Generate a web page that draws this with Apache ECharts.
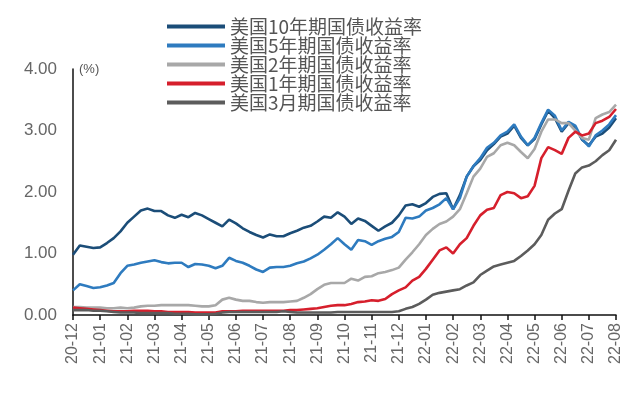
<!DOCTYPE html>
<html>
<head>
<meta charset="utf-8">
<script src="https://cdn.jsdelivr.net/npm/echarts@6/dist/echarts.min.js"></script>
<style>html,body{margin:0;padding:0;background:#fff;}#c{width:640px;height:393px;}</style>
</head>
<body>
<div id="c"></div>
<script>
// Month tick labels (x axis, one per month)
const monthLabels = ['20-12','21-01','21-02','21-03','21-04','21-05','21-06','21-07','21-08','21-09','21-10','21-11','21-12','22-01','22-02','22-03','22-04','22-05','22-06','22-07','22-08'];
// Data sampled about weekly (4 points per month), from 20-12 to 22-08
const pointsPerMonth = 4;
const seriesNames = ['美国10年期国债收益率','美国5年期国债收益率','美国2年期国债收益率','美国1年期国债收益率','美国3月期国债收益率'];
const y10 = [0.98,1.13,1.11,1.09,1.10,1.17,1.25,1.36,1.50,1.60,1.70,1.73,1.69,1.69,1.62,1.58,1.63,1.59,1.66,1.62,1.56,1.50,1.44,1.55,1.49,1.41,1.35,1.30,1.26,1.31,1.28,1.28,1.33,1.37,1.42,1.45,1.52,1.60,1.58,1.67,1.60,1.48,1.57,1.53,1.45,1.37,1.44,1.50,1.62,1.78,1.80,1.76,1.82,1.92,1.97,1.98,1.72,1.95,2.25,2.42,2.52,2.68,2.78,2.90,2.95,3.08,2.88,2.76,2.86,3.10,3.32,3.20,2.98,3.12,3.05,2.85,2.76,2.90,2.95,3.05,3.20];
const y5 = [0.40,0.50,0.47,0.44,0.45,0.48,0.52,0.68,0.80,0.82,0.85,0.87,0.89,0.86,0.84,0.85,0.85,0.78,0.83,0.82,0.80,0.76,0.80,0.93,0.88,0.85,0.80,0.74,0.70,0.77,0.78,0.78,0.80,0.84,0.87,0.92,0.98,1.06,1.15,1.25,1.15,1.06,1.22,1.20,1.14,1.20,1.24,1.27,1.35,1.58,1.57,1.60,1.70,1.74,1.80,1.90,1.72,1.90,2.25,2.42,2.55,2.72,2.80,2.92,2.98,3.10,2.90,2.76,2.88,3.12,3.34,3.24,3.00,3.14,3.08,2.86,2.74,2.92,3.00,3.10,3.25];
const y2 = [0.13,0.13,0.12,0.12,0.12,0.11,0.11,0.12,0.11,0.12,0.14,0.15,0.15,0.16,0.16,0.16,0.16,0.16,0.15,0.14,0.14,0.16,0.25,0.28,0.25,0.23,0.23,0.21,0.20,0.21,0.21,0.21,0.22,0.23,0.28,0.34,0.42,0.49,0.52,0.52,0.52,0.59,0.56,0.62,0.63,0.68,0.70,0.73,0.77,0.90,1.02,1.15,1.30,1.40,1.48,1.52,1.60,1.72,1.98,2.25,2.38,2.57,2.63,2.76,2.80,2.76,2.65,2.55,2.70,2.98,3.18,3.18,3.12,3.12,3.00,2.88,2.85,3.20,3.26,3.30,3.42];
const y1 = [0.12,0.11,0.10,0.09,0.08,0.07,0.06,0.06,0.06,0.07,0.07,0.07,0.06,0.06,0.05,0.05,0.05,0.05,0.04,0.04,0.04,0.04,0.06,0.06,0.06,0.07,0.07,0.07,0.07,0.07,0.07,0.07,0.08,0.08,0.09,0.10,0.11,0.13,0.15,0.16,0.16,0.18,0.21,0.22,0.24,0.23,0.26,0.34,0.40,0.45,0.56,0.62,0.75,0.90,1.05,1.10,1.00,1.15,1.25,1.45,1.62,1.71,1.74,1.95,2.00,1.98,1.90,1.93,2.10,2.55,2.73,2.68,2.62,2.88,2.98,2.92,2.95,3.12,3.16,3.22,3.35];
const y3m = [0.08,0.08,0.08,0.07,0.07,0.06,0.05,0.04,0.04,0.04,0.03,0.03,0.03,0.03,0.03,0.02,0.02,0.02,0.01,0.01,0.01,0.02,0.04,0.05,0.05,0.05,0.05,0.05,0.05,0.05,0.05,0.06,0.05,0.04,0.04,0.04,0.04,0.04,0.04,0.05,0.05,0.05,0.05,0.05,0.05,0.05,0.05,0.05,0.06,0.10,0.13,0.18,0.25,0.33,0.36,0.38,0.40,0.42,0.48,0.53,0.65,0.72,0.79,0.82,0.85,0.88,0.96,1.05,1.15,1.30,1.55,1.65,1.72,2.02,2.30,2.40,2.43,2.50,2.60,2.68,2.85];
const yTicks = ['0.00','1.00','2.00','3.00','4.00'];
const colors = ['#1b4d78','#2e7bbf','#a8a8a8','#d61f2c','#5c5c5c'];

function pairs(arr){ return arr.map((v,i)=>[i/pointsPerMonth, v]); }
const allData = [y10,y5,y2,y1,y3m];

const chart = echarts.init(document.getElementById('c'), null, {renderer:'canvas'});
chart.setOption({
  animation:false,
  backgroundColor:'#ffffff',
  textStyle:{fontFamily:'Liberation Sans, Arial, sans-serif'},
  legend:{
    orient:'vertical', left:162, top:12,
    icon:'rect', itemWidth:58, itemHeight:4, itemGap:0,
    textStyle:{fontFamily:'Noto Sans CJK SC', fontSize:19, lineHeight:19, color:'#555'},
    data: seriesNames
  },
  grid:{left:73, right:24, top:69, bottom:78, containLabel:false},
  xAxis:{
    type:'value', min:0, max:monthLabels.length-1, interval:1,
    axisLine:{show:true, lineStyle:{color:'#111', width:1.5}},
    axisTick:{show:true, length:5, lineStyle:{color:'#111', width:1.5}},
    splitLine:{show:false},
    axisLabel:{rotate:90, margin:8, fontSize:16, color:'#666',
      formatter:(v)=>monthLabels[Math.round(v)] || ''}
  },
  yAxis:{
    type:'value', min:0, max:4, interval:1,
    name:'(%)', nameLocation:'end', nameGap:0,
    nameTextStyle:{align:'left', verticalAlign:'middle', padding:[0,0,0,6], fontSize:13, color:'#555'},
    axisLine:{show:true, lineStyle:{color:'#111', width:1.5}},
    axisTick:{show:false},
    splitLine:{show:false},
    axisLabel:{margin:16, fontSize:17, color:'#666', formatter:(v)=>yTicks[Math.round(v)]}
  },
  series: seriesNames.map((n,k)=>({
    name:n, type:'line', showSymbol:false, symbol:'none',
    data: pairs(allData[k]),
    lineStyle:{width:2.6, color:colors[k]},
    itemStyle:{color:colors[k]}
  }))
});
</script>
</body>
</html>
